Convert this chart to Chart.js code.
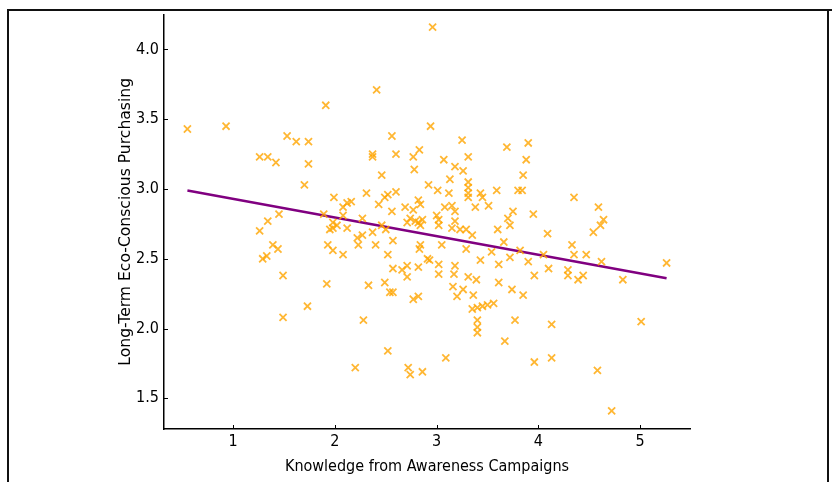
<!DOCTYPE html>
<html>
<head>
<meta charset="utf-8">
<script src="https://cdn.jsdelivr.net/npm/chart.js@4/dist/chart.umd.min.js"></script>
<style>
  html, body { margin: 0; padding: 0; background: #fff; }
  #wrap { position: relative; width: 832px; height: 482px; }
  .frame { position: absolute; background: #111; }
</style>
</head>
<body>
<div id="wrap">
  <canvas id="scatterChart" width="832" height="482"></canvas>
  <div class="frame" style="left:7px; top:9px; width:825px; height:2px;"></div>
  <div class="frame" style="left:7px; top:9px; width:2px; height:473px;"></div>
  <div class="frame" style="left:827px; top:9px; width:2px; height:473px;"></div>
</div>
<script>
// Knowledge from awareness campaigns (x) vs long-term eco-conscious purchasing (y)
const knowledge = [
  0.55, 0.93, 1.26, 1.34, 1.42, 1.53, 1.62, 1.74, 1.74, 1.70, 1.91, 1.99, 1.45, 1.34, 1.89, 1.26,
  1.39, 1.44, 1.29, 1.33, 1.49, 1.49, 1.73, 1.92, 1.93, 1.98, 1.98, 2.02, 1.98, 2.08, 2.12, 1.95,
  2.41, 2.94, 2.56, 3.25, 3.69, 2.37, 2.37, 2.60, 2.77, 2.83, 3.07, 3.31, 3.18, 3.26, 2.78, 2.46,
  3.13, 2.92, 3.01, 3.31, 3.31, 3.31, 3.31, 3.43, 3.45, 3.59, 3.80, 3.12, 2.31, 2.60, 2.49, 2.52,
  2.16, 2.08, 2.43, 2.82, 2.84, 2.69, 2.77, 2.56, 3.00, 3.08, 3.15, 3.18, 3.38, 3.51, 3.75, 3.70,
  2.27, 2.74, 2.79, 2.86, 3.02, 3.18, 2.46, 3.90, 3.88, 3.85, 3.84, 4.35, 4.59, 3.95, 4.64, 4.61,
  4.09, 4.54, 4.33, 4.35, 4.47, 4.05, 3.90, 4.10, 3.96, 4.29, 4.29, 4.39, 4.44, 4.62, 4.83, 5.26,
  3.85, 4.13, 5.01, 3.96, 4.13, 4.58, 4.72, 2.08, 2.22, 2.23, 2.27, 2.33, 2.28, 2.20, 2.52, 2.72,
  2.74, 2.86, 3.09, 2.49, 2.54, 2.57, 2.77, 2.82, 2.52, 2.57, 2.66, 2.71, 2.71, 2.82, 2.91, 2.93,
  3.02, 3.02, 2.40, 2.57, 2.84, 2.83, 3.05, 3.18, 3.17, 3.31, 3.39, 3.16, 3.26, 3.20, 3.36, 3.35,
  3.40, 3.45, 3.50, 3.56, 3.40, 3.40, 3.40, 3.67, 3.77, 3.74, 3.61, 3.29, 3.43, 3.54, 3.61, 3.66,
  3.72, 3.82, 3.60, 3.72, 3.35, 3.29, 3.23, 3.15, 3.02, 2.50, 2.37, 2.12, 2.71, 2.82, 2.84, 2.96
];
const purchasing = [
  3.43, 3.45, 3.23, 3.23, 3.19, 3.38, 3.34, 3.34, 3.18, 3.03, 3.60, 2.94, 2.82, 2.77, 2.82, 2.70,
  2.60, 2.57, 2.50, 2.52, 2.38, 2.08, 2.16, 2.32, 2.60, 2.56, 2.72, 2.74, 2.76, 2.81, 2.90, 2.71,
  3.71, 3.45, 3.38, 3.35, 3.30, 3.25, 3.23, 3.25, 3.23, 3.28, 3.21, 3.23, 3.16, 3.13, 3.14, 3.10,
  3.07, 3.03, 2.99, 3.05, 3.01, 2.97, 2.94, 2.97, 2.94, 2.99, 2.99, 2.97, 2.97, 2.98, 2.94, 2.96,
  2.91, 2.87, 2.89, 2.92, 2.89, 2.87, 2.85, 2.84, 2.81, 2.87, 2.88, 2.84, 2.87, 2.88, 2.84, 2.79,
  2.79, 2.79, 2.77, 2.78, 2.78, 2.77, 2.74, 3.33, 3.21, 3.10, 2.99, 2.94, 2.87, 2.82, 2.78, 2.74,
  2.68, 2.69, 2.60, 2.53, 2.53, 2.53, 2.48, 2.43, 2.38, 2.42, 2.38, 2.35, 2.38, 2.48, 2.35, 2.47,
  2.24, 2.03, 2.05, 1.76, 1.79, 1.70, 1.41, 2.53, 2.65, 2.60, 2.67, 2.31, 2.06, 1.72, 1.84, 1.72,
  1.67, 1.69, 1.79, 2.33, 2.26, 2.26, 2.21, 2.23, 2.53, 2.43, 2.42, 2.45, 2.37, 2.44, 2.50, 2.49,
  2.46, 2.39, 2.60, 2.63, 2.60, 2.57, 2.60, 2.45, 2.39, 2.37, 2.35, 2.30, 2.28, 2.23, 2.24, 2.14,
  2.15, 2.16, 2.17, 2.18, 2.06, 2.01, 1.97, 1.91, 2.06, 2.28, 2.33, 2.57, 2.49, 2.55, 2.46, 2.62,
  2.51, 2.56, 2.71, 2.74, 2.67, 2.71, 2.71, 2.72, 2.74, 2.71, 2.69, 2.72, 2.76, 2.76, 2.74, 4.16
];
// fitted trend line end points
const trendX = [0.55, 5.26];
const trendY = [2.99, 2.36];

const xTicks = [1, 2, 3, 4, 5];
const yTicks = [1.5, 2.0, 2.5, 3.0, 3.5, 4.0];

const tickFont = { family: '"DejaVu Sans Condensed", "DejaVu Sans", sans-serif', size: 16 };

// small tick marks pointing into the plot, like the original figure
const innerTicks = {
    id: 'innerTicks',
    afterDraw(chart) {
        const { ctx, chartArea, scales } = chart;
        ctx.save();
        ctx.strokeStyle = '#000';
        ctx.lineWidth = 1;
        scales.x.ticks.forEach(t => {
            const px = Math.round(scales.x.getPixelForValue(t.value)) + 0.5;
            ctx.beginPath();
            ctx.moveTo(px, chartArea.bottom);
            ctx.lineTo(px, chartArea.bottom - 4);
            ctx.stroke();
        });
        scales.y.ticks.forEach(t => {
            const py = Math.round(scales.y.getPixelForValue(t.value)) + 0.5;
            ctx.beginPath();
            ctx.moveTo(chartArea.left, py);
            ctx.lineTo(chartArea.left + 4, py);
            ctx.stroke();
        });
        ctx.restore();
    }
};

document.addEventListener('DOMContentLoaded', () => {
    const ctx = document.getElementById('scatterChart');
    new Chart(ctx, {
        type: 'scatter',
        data: {
            datasets: [{
                label: 'Respondents',
                data: knowledge.map((k, i) => ({ x: k, y: purchasing[i] })),
                pointStyle: 'crossRot',
                pointRadius: 5,
                pointHoverRadius: 5,
                borderWidth: 1.8,
                borderColor: 'rgba(255, 165, 0, 0.8)',
                backgroundColor: 'rgba(255, 165, 0, 0.8)'
            }, {
                type: 'line',
                label: 'Trend',
                data: trendX.map((x, i) => ({ x: x, y: trendY[i] })),
                borderColor: '#800080',
                borderWidth: 2.5,
                pointRadius: 0,
                fill: false
            }]
        },
        options: {
            responsive: false,
            animation: false,
            layout: { padding: { left: 0, right: 142, top: 10, bottom: 0 } },
            plugins: {
                legend: { display: false },
                tooltip: { enabled: false }
            },
            scales: {
                x: {
                    type: 'linear',
                    min: 0.32,
                    max: 5.49,
                    grid: { display: true, drawOnChartArea: false, drawTicks: false },
                    border: { display: true, color: '#000', width: 1.5 },
                    afterBuildTicks: scale => { scale.ticks = xTicks.map(v => ({ value: v })); },
                    afterFit: scale => { scale.height = 53; },
                    ticks: { color: '#000', font: tickFont, padding: 3, callback: v => String(v) },
                    title: {
                        display: true,
                        text: 'Knowledge from Awareness Campaigns',
                        color: '#000',
                        font: tickFont,
                        padding: { top: 0, bottom: 6 }
                    }
                },
                y: {
                    type: 'linear',
                    min: 1.28,
                    max: 4.25,
                    grid: { display: true, drawOnChartArea: false, drawTicks: false },
                    border: { display: true, color: '#000', width: 1.5 },
                    afterBuildTicks: scale => { scale.ticks = yTicks.map(v => ({ value: v })); },
                    afterFit: scale => { scale.width = 164; },
                    ticks: { color: '#000', font: tickFont, padding: 5, callback: v => Number(v).toFixed(1) },
                    title: {
                        display: true,
                        text: 'Long-Term Eco-Conscious Purchasing',
                        color: '#000',
                        font: { family: '"DejaVu Sans", sans-serif', size: 15.6 },
                        padding: { top: 117, bottom: 0 }
                    }
                }
            }
        },
        plugins: [innerTicks]
    });
});
</script>
</body>
</html>
